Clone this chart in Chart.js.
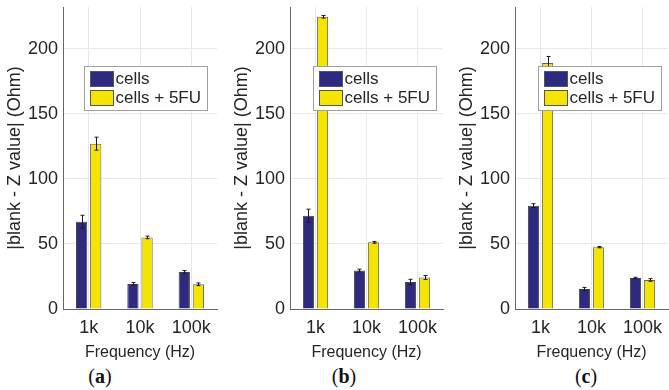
<!DOCTYPE html>
<html>
<head>
<meta charset="utf-8">
<script src="https://cdn.jsdelivr.net/npm/chart.js@4.4.1/dist/chart.umd.min.js"></script>
<style>
  body { margin: 0; background: #fff; width: 669px; height: 390px; position: relative; overflow: hidden; }
  .panel { position: absolute; top: 0; height: 365px; }
  .tag { position: absolute; top: 365px; font: 20px 'Liberation Serif', 'Times New Roman', serif; color: #111; transform: translateX(-50%); }
</style>
</head>
<body>
<div class="panel" style="left:0;width:222px"><canvas id="chartA"></canvas></div>
<div class="panel" style="left:227px;width:221px"><canvas id="chartB"></canvas></div>
<div class="panel" style="left:452px;width:217px"><canvas id="chartC"></canvas></div>
<div class="tag" style="left:100px">(<b>a</b>)</div>
<div class="tag" style="left:344px">(<b>b</b>)</div>
<div class="tag" style="left:586px">(<b>c</b>)</div>

<script>
// frequencies and |blank - Z| per panel
const freqLabels = ['1k', '10k', '100k'];
const yTicks = [0, 50, 100, 150, 200];

const cellsA = [67, 19.3, 28.5];
const cellsErrA = [5, 1, 1];
const fuA = [127, 55, 19];
const fuErrA = [5, 1, 1];

const cellsB = [71.7, 29.6, 20.8];
const cellsErrB = [5, 1, 2];
const fuB = [224.5, 51.2, 24.2];
const fuErrB = [1, 0.7, 1.5];

const cellsC = [79.4, 15.4, 23.9];
const cellsErrC = [1.5, 1.2, 0.5];
const fuC = [189, 47.5, 22.3];
const fuErrC = [5, 0.5, 1];

const NAVY = '#2e2a80';
const YELLOW = '#f4e400';
const FONT = "'Liberation Sans', Arial, sans-serif";

// vertical error bars with small caps, drawn on top of the bars
const errorBars = {
    id: 'errorBars',
    afterDatasetsDraw(chart) {
        const ctx = chart.ctx;
        const y = chart.scales.y;
        ctx.save();
        ctx.strokeStyle = '#1a1a1a';
        ctx.lineWidth = 1;
        chart.data.datasets.forEach((ds, i) => {
            const meta = chart.getDatasetMeta(i);
            meta.data.forEach((bar, j) => {
                const v = ds.data[j], e = ds.errors[j];
                const x = Math.round(bar.x) + 0.5;
                const top = y.getPixelForValue(v + e);
                const bot = y.getPixelForValue(v - e);
                ctx.beginPath();
                ctx.moveTo(x, top); ctx.lineTo(x, bot);
                ctx.moveTo(x - 2, top); ctx.lineTo(x + 2, top);
                ctx.moveTo(x - 2, bot); ctx.lineTo(x + 2, bot);
                ctx.stroke();
            });
        });
        ctx.restore();
    }
};

// boxed legend sitting inside the plot area
const insideLegend = {
    id: 'insideLegend',
    afterDraw(chart, args, opts) {
        const ctx = chart.ctx;
        const bx = chart.chartArea.left + opts.offsetX + 0.5;
        const by = opts.top + 0.5;
        ctx.save();
        ctx.fillStyle = '#fff';
        ctx.strokeStyle = '#a0a0a0';
        ctx.lineWidth = 1;
        ctx.fillRect(bx, by, 123, 44);
        ctx.strokeRect(bx, by, 123, 44);
        ctx.font = '17px ' + FONT;
        ctx.textBaseline = 'middle';
        chart.data.datasets.forEach((ds, i) => {
            const sy = by + 5 + i * 19;
            ctx.fillStyle = ds.backgroundColor;
            ctx.fillRect(bx + 6, sy, 23, 15);
            ctx.strokeStyle = '#555';
            ctx.strokeRect(bx + 6, sy, 23, 15);
            ctx.fillStyle = '#262626';
            ctx.fillText(ds.label, bx + 31, sy + 8);
        });
        ctx.restore();
    }
};

function makeChart(id, cells, cellsErr, fu, fuErr, legendX) {
    return new Chart(document.getElementById(id), {
        type: 'bar',
        data: {
            labels: freqLabels,
            datasets: [{
                label: 'cells',
                data: cells,
                errors: cellsErr,
                backgroundColor: NAVY,
                borderColor: '#444',
                borderWidth: 1
            }, {
                label: 'cells + 5FU',
                data: fu,
                errors: fuErr,
                backgroundColor: YELLOW,
                borderColor: '#666',
                borderWidth: 1
            }]
        },
        options: {
            responsive: true,
            maintainAspectRatio: false,
            animation: false,
            categoryPercentage: 0.55,
            barPercentage: 0.8,
            layout: { padding: { left: 0, top: 7, right: id === 'chartC' ? 1 : 5, bottom: 0 } },
            plugins: {
                legend: { display: false },
                tooltip: { enabled: false },
                insideLegend: { offsetX: legendX, top: 66 }
            },
            scales: {
                x: {
                    grid: { offset: false, color: '#e8e8e8', drawTicks: false },
                    border: { color: '#666' },
                    ticks: { color: '#262626', padding: 8, font: { family: FONT, size: 18 } },
                    title: {
                        display: true,
                        text: 'Frequency (Hz)',
                        color: '#262626',
                        padding: { top: 0, bottom: 3 },
                        font: { family: FONT, size: 16 }
                    },
                    afterFit(s) { s.height = 56; s.paddingLeft = 0; s.paddingRight = 0; }
                },
                y: {
                    min: 0,
                    max: 232,
                    grid: { color: '#e8e8e8', drawTicks: false },
                    border: { color: '#666' },
                    afterBuildTicks(s) { s.ticks = yTicks.map(v => ({ value: v })); },
                    ticks: { color: '#262626', padding: 5, font: { family: FONT, size: 18 } },
                    title: {
                        display: true,
                        text: '|blank - Z value| (Ohm)',
                        color: '#262626',
                        padding: { top: 4, bottom: 0 },
                        font: { family: FONT, size: 18 }
                    },
                    afterFit(s) { s.width = 63; s.paddingTop = 0; s.paddingBottom = 0; }
                }
            }
        },
        plugins: [errorBars, insideLegend]
    });
}

makeChart('chartA', cellsA, cellsErrA, fuA, fuErrA, 21);
makeChart('chartB', cellsB, cellsErrB, fuB, fuErrB, 23);
makeChart('chartC', cellsC, cellsErrC, fuC, fuErrC, 23);
</script>
</body>
</html>
